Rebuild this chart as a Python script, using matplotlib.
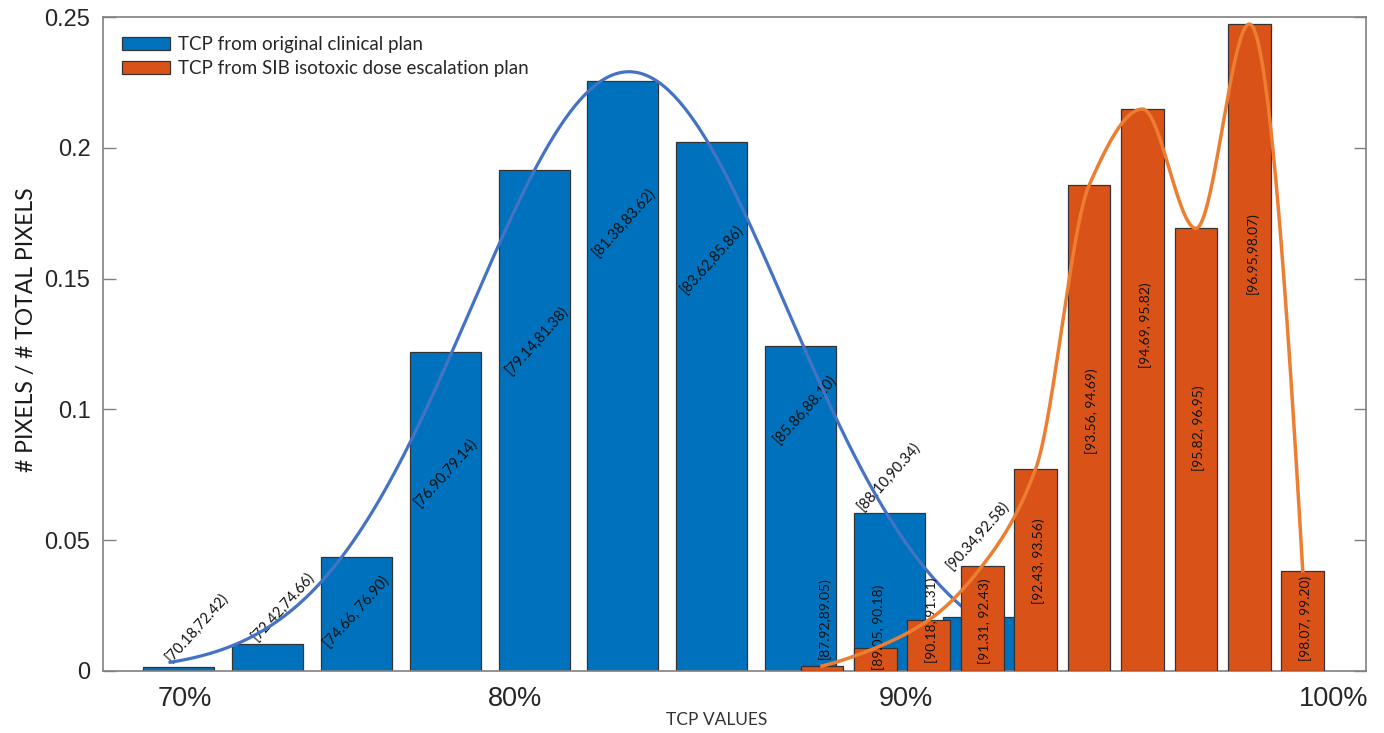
import numpy as np
import matplotlib
matplotlib.use("Agg")
import matplotlib.pyplot as plt

#----------------------------------------------------------- Data
blue_vals = [0.0015, 0.0103, 0.0436, 0.1221, 0.1914, 0.2255, 0.2021, 0.1244, 0.0605, 0.0207]
orange_vals = [0.0019, 0.0088, 0.0195, 0.0402, 0.0773, 0.1857, 0.2148, 0.1692, 0.2473, 0.0383]

blue_bins = ["[70.18,72.42)", "[72.42,74.66)", "[74.66, 76.90)", "[76.90,79.14)", "[79.14,81.38)",
             "[81.38,83.62)", "[83.62,85.86)", "[85.86,88.10)", "[88.10,90.34)", "[90.34,92.58)"]
orange_bins = ["[87.92,89.05)", "[89.05, 90.18)", "[90.18, 91.31)", "[91.31, 92.43)", "[92.43, 93.56)",
               "[93.56, 94.69)", "[94.69, 95.82)", "[95.82, 96.95)", "[96.95,98.07)", "[98.07, 99.20)"]

xtick_labels = ["70%", "80%", "90%", "100%"]
yticks = [0, 0.05, 0.1, 0.15, 0.2, 0.25]
ytick_labels = ["0", "0.05", "0.1", "0.15", "0.2", "0.25"]

legend_labels = ["TCP from original clinical plan", "TCP from SIB isotoxic dose escalation plan"]

#----------------------------------------------------------- Layout (bar slots, label spots)
orange_start = 8.243      # slot of first orange bin
orange_step = 0.6016      # orange bins are narrower than blue ones
bar_frac = 0.8
xtick_pos = [1.07, 4.785, 9.19, 14.0]
blue_label_dx = [0.20, 0.17, 0.0, 0.0, 0.03, 0.01, 0.0, 0.05, -0.01, 0.0]
blue_label_y = [0.0165, 0.0245, 0.0226, 0.0758, 0.1263, 0.1715, 0.1574, 0.0999, 0.0743, 0.0517]
orange_label_y = [0.0203, 0.0168, 0.0195, 0.0191, 0.0421, 0.0995, 0.132, 0.093, 0.1596, 0.0203]

BLUE = "#0072BD"
ORANGE = "#D95319"
BLUE_LINE = "#4472C4"
ORANGE_LINE = "#ED7D31"
TXT = "#262626"

#----------------------------------------------------------- Curve helpers
def gauss_fit(x, y):
    # Guo's weighted log-parabola fit
    x = np.asarray(x, float)
    y = np.asarray(y, float)
    w = y ** 2
    A = np.vstack([np.ones_like(x), x, x ** 2]).T
    coef = np.linalg.lstsq(A * np.sqrt(w)[:, None], np.log(y) * np.sqrt(w), rcond=None)[0]
    a, b, c = coef
    mu = -b / (2 * c)
    sig = np.sqrt(-1 / (2 * c))
    amp = np.exp(a - b ** 2 / (4 * c))
    return lambda t: amp * np.exp(-(t - mu) ** 2 / (2 * sig ** 2))

def pchip(x, y, xs):
    x = np.asarray(x, float)
    y = np.asarray(y, float)
    n = len(x)
    h = np.diff(x)
    d = np.diff(y) / h
    m = np.zeros(n)
    for k in range(1, n - 1):
        if d[k - 1] * d[k] > 0:
            w1 = 2 * h[k] + h[k - 1]
            w2 = h[k] + 2 * h[k - 1]
            m[k] = (w1 + w2) / (w1 / d[k - 1] + w2 / d[k])
    # end slopes, three point formula
    def end_slope(h0, h1, d0, d1):
        s = ((2 * h0 + h1) * d0 - h0 * d1) / (h0 + h1)
        if np.sign(s) != np.sign(d0):
            s = 0.0
        elif np.sign(d0) != np.sign(d1) and abs(s) > abs(3 * d0):
            s = 3 * d0
        return s
    m[0] = end_slope(h[0], h[1], d[0], d[1])
    m[-1] = end_slope(h[-1], h[-2], d[-1], d[-2])
    idx = np.clip(np.searchsorted(x, xs) - 1, 0, n - 2)
    hh = h[idx]
    t = (xs - x[idx]) / hh
    h00 = 2 * t ** 3 - 3 * t ** 2 + 1
    h10 = t ** 3 - 2 * t ** 2 + t
    h01 = -2 * t ** 3 + 3 * t ** 2
    h11 = t ** 3 - t ** 2
    return h00 * y[idx] + h10 * hh * m[idx] + h01 * y[idx + 1] + h11 * hh * m[idx + 1]

#----------------------------------------------------------- Plot
blue_pos = np.arange(1, len(blue_vals) + 1)
orange_pos = orange_start + orange_step * np.arange(len(orange_vals))

fig = plt.figure(figsize=(13.84, 7.33), dpi=100)
ax = fig.add_axes([0.0744, 0.0846, 0.9126, 0.8922])

ax.bar(blue_pos, blue_vals, width=bar_frac, color=BLUE, edgecolor="#333333", linewidth=0.9,
       label=legend_labels[0], zorder=2)
for i in range(len(blue_vals)):
    ax.text(blue_pos[i] + blue_label_dx[i], blue_label_y[i], blue_bins[i], rotation=48,
            rotation_mode="anchor", ha="center", va="center", fontsize=10.5,
            family="Lato", color="#111111", zorder=3)

g = gauss_fit(blue_pos, blue_vals)
xb = np.linspace(blue_pos[0] - 0.1, blue_pos[-1] - 0.17, 300)
ax.plot(xb, g(xb), color=BLUE_LINE, linewidth=2.3, zorder=4)

ax.bar(orange_pos, orange_vals, width=bar_frac * orange_step, color=ORANGE, edgecolor="#333333",
       linewidth=0.9, label=legend_labels[1], zorder=5)
for i in range(len(orange_vals)):
    ax.text(orange_pos[i] + 0.03, orange_label_y[i], orange_bins[i], rotation=90,
            rotation_mode="anchor", ha="center", va="center", fontsize=10,
            family="Lato", color="#111111", zorder=6)

xo = np.linspace(orange_pos[0], orange_pos[-1], 400)
ax.plot(xo, pchip(orange_pos, orange_vals, xo), color=ORANGE_LINE, linewidth=2.5, zorder=7)

ax.set_xlim(0.144, 14.37)
ax.set_ylim(0, 0.25)
ax.set_yticks(yticks)
ax.set_yticklabels(ytick_labels, family="Liberation Sans", fontsize=17, color=TXT)
ax.set_xticks(xtick_pos)
ax.set_xticklabels(xtick_labels, family="Liberation Sans", fontsize=19.5, color=TXT)
ax.tick_params(axis="x", length=0, pad=11)
ax.tick_params(axis="y", direction="in", length=9, width=1, color="#808080", pad=9,
               right=True)
for s in ax.spines.values():
    s.set_color("#808080")
    s.set_linewidth(1.2)

leg = ax.legend(loc="upper left", bbox_to_anchor=(0.0, 1.0), frameon=False,
                prop={"family": "Lato", "size": 13.5}, handlelength=2.6, handleheight=0.7,
                handletextpad=0.4, borderaxespad=0.6, labelspacing=0.4)
for t in leg.get_texts():
    t.set_color(TXT)

fig.text(27 / 1384, 1 - 330 / 733, "# PIXELS / # TOTAL PIXELS", rotation=90, ha="center",
         va="center", family="Lato", fontsize=16.5, color="#1a1a1a")
fig.text(717 / 1384, 1 - 720 / 733, "TCP VALUES", ha="center", va="center",
         family="Lato", fontsize=12.5, color="#333333")

fig.savefig("out.png", dpi=100)
